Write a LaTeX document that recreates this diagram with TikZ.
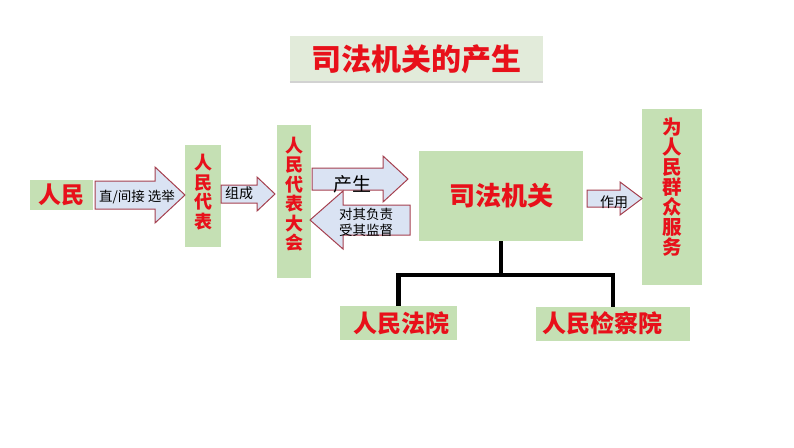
\documentclass[tikz,border=0pt]{standalone}
\usepackage{fontspec}
\newfontfamily\cjk{Noto Sans CJK SC}
\usepackage{tikz}
\usetikzlibrary{positioning}
\definecolor{boxgreen}{HTML}{C5E0B4}
\definecolor{titlegreen}{HTML}{E2EBDA}
\definecolor{hred}{HTML}{E8101A}
\definecolor{arrline}{HTML}{A5404F}
\definecolor{arrfill}{HTML}{DAE3F3}
\tikzset{
  gbox/.style={fill=boxgreen, inner sep=0pt},
  redtext/.style={text=hred, inner sep=0pt, font=\cjk\bfseries\fontsize{#1}{#1}\selectfont},
  vtext/.style 2 args={text=hred, inner sep=0pt, align=center, font=\cjk\bfseries\fontsize{#1}{#2}\selectfont},
  arrtext/.style={inner sep=0pt, align=center, font=\cjk\fontsize{#1}{16}\selectfont},
  arrowbox/.style={draw=arrline, line width=1pt, fill=arrfill},
  tree/.style={line width=4.5pt}
}
\newcommand{\blockarrow}[6]{%
  \draw[arrowbox] (#1,#4-#5) -- (#2,#4-#5) -- (#2,#4-#6) -- (#3,#4) -- (#2,#4+#6) -- (#2,#4+#5) -- (#1,#4+#5) -- cycle;}
\begin{document}
\begin{tikzpicture}[x=1pt,y=-1pt]
    \useasboundingbox (0,0) rectangle (794,447);
    \node[fill=titlegreen, minimum width=253, minimum height=46, inner sep=0pt] (title) at (416.5,59) {};
    \draw[gray!35, line width=1.5pt] (title.south west) -- (title.south east);
    \node[redtext=30] (title-t) at (title) {司法机关的产生};

    \node[gbox, minimum width=63, minimum height=30, redtext=23] (people) at (61.5,195) {人民};
    \node[gbox, minimum width=36, minimum height=102] (rep) at (203,196) {};
    \node[vtext={18}{19.5}] (rep-t) at (203,192) {人\\民\\代\\表};
    \node[gbox, minimum width=34, minimum height=153] (npc) at (294,201.5) {};
    \node[vtext={18}{19.5}] (npc-t) at (294,194) {人\\民\\代\\表\\大\\会};
    \node[gbox, minimum width=164, minimum height=90, redtext=26] (jud) at (501,196) {司法机关};
    \node[gbox, minimum width=60, minimum height=176] (serve) at (672,197) {};
    \node[vtext={19.5}{20}] (serve-t) at (672,187) {为\\人\\民\\群\\众\\服\\务};
    \node[gbox, minimum width=117, minimum height=34] (court) at (398.5,323) {};
    \node[redtext=24] (court-t) at (401,323) {人民法院};
    \node[gbox, minimum width=154, minimum height=34] (proc) at (613,324) {};
    \node[redtext=24] (proc-t) at (602,323) {人民检察院};

    \blockarrow{95}{155}{185}{195}{14}{28}
    \blockarrow{221}{257}{275}{194}{9}{17}
    \blockarrow{312}{383}{408}{179}{11}{23}
    \blockarrow{410}{343}{310}{220}{15}{29}
    \blockarrow{587}{620}{642}{198.5}{8.5}{16.5}
    \node[arrtext=13.5] (elect) at (137,197) {直/间接\ 选举};
    \node[arrtext=14] (form) at (239,193) {组成};
    \node[arrtext=19] (create) at (352,184) {产生};
    \node[arrtext=13.5] (answer) at (366,222) {对其负责\\受其监督};
    \node[arrtext=14] (role) at (614,202) {作用};

    \coordinate (fork) at (jud.south |- 0,275);
    \draw[tree] (jud.south) -- (fork);
    \draw[tree] (fork) -| (court.north);
    \draw[tree] (fork) -| (proc.north);
\end{tikzpicture}
\end{document}
